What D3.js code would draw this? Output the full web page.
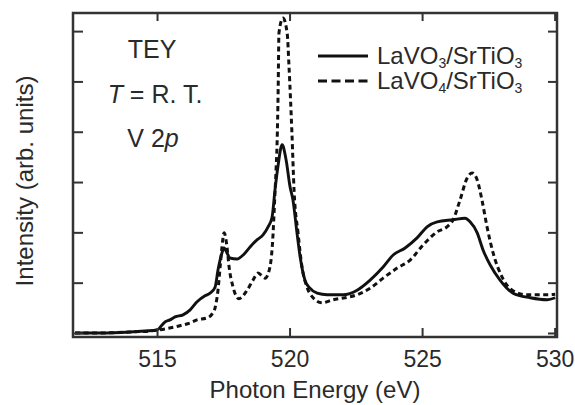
<!DOCTYPE html>
<html>
<head>
<meta charset="utf-8">
<script src="https://cdn.jsdelivr.net/npm/d3@7"></script>
<style>
  body { margin: 0; background: #fff; }
  text { font-family: "Liberation Sans", Arial, Helvetica, sans-serif; fill: #2a2a2a; }
</style>
</head>
<body>
<svg id="chart" width="575" height="405"></svg>
<script>
// LaVO3/SrTiO3 (solid)
const energyVO3 = [511.91, 512.85, 513.98, 514.55, 515.00, 515.30, 515.49, 515.68, 515.98, 516.25,
  516.51, 516.81, 517.00, 517.19, 517.30, 517.45, 517.53, 517.64, 517.75, 518.02,
  518.25, 518.51, 518.77, 519.00, 519.19, 519.34, 519.45, 519.57, 519.72, 519.87,
  520.02, 520.13, 520.28, 520.40, 520.58, 520.77, 521.04, 521.42, 522.02, 522.55,
  523.04, 523.53, 523.91, 524.36, 524.81, 525.19, 525.57, 526.17, 526.62, 526.81,
  527.08, 527.30, 527.57, 527.94, 528.43, 529.08, 529.72, 530.02];
const intensityVO3 = [0, 0, 0.02, 0.04, 0.06, 0.22, 0.26, 0.32, 0.36, 0.46,
  0.62, 0.74, 0.79, 0.91, 1.25, 1.59, 1.69, 1.59, 1.49, 1.47,
  1.55, 1.71, 1.85, 1.95, 2.11, 2.30, 2.84, 3.34, 3.74, 3.44,
  2.90, 2.64, 1.99, 1.51, 1.05, 0.89, 0.79, 0.76, 0.76, 0.85,
  1.05, 1.31, 1.55, 1.69, 1.89, 2.11, 2.21, 2.25, 2.28, 2.21,
  1.99, 1.65, 1.35, 1.05, 0.79, 0.70, 0.66, 0.70];

// LaVO4/SrTiO3 (dashed)
const energyVO4 = [511.91, 512.85, 513.98, 514.74, 515.30, 515.68, 515.98, 516.25, 516.51, 516.89,
  517.08, 517.19, 517.30, 517.38, 517.45, 517.53, 517.64, 517.72, 517.87, 518.09,
  518.40, 518.62, 518.81, 519.08, 519.26, 519.38, 519.42, 519.49, 519.53, 519.57,
  519.60, 519.75, 519.91, 519.98, 520.09, 520.17, 520.32, 520.47, 520.66, 520.89,
  521.23, 521.64, 522.09, 522.55, 523.04, 523.53, 524.06, 524.55, 525.04, 525.57,
  525.94, 526.17, 526.43, 526.70, 526.89, 527.08, 527.26, 527.45, 527.68, 528.02,
  528.40, 528.96, 529.72, 530.02];
const intensityVO4 = [0, 0, 0.02, 0.04, 0.08, 0.12, 0.16, 0.20, 0.26, 0.30,
  0.38, 0.50, 0.85, 1.31, 1.71, 1.99, 1.71, 1.31, 0.91, 0.68,
  0.85, 1.05, 1.19, 1.09, 1.31, 1.99, 2.44, 3.24, 3.78, 4.83,
  5.96, 6.26, 5.96, 5.29, 3.97, 2.84, 1.99, 1.31, 0.91, 0.70,
  0.60, 0.66, 0.70, 0.76, 0.89, 1.09, 1.29, 1.45, 1.75, 2.01,
  2.11, 2.25, 2.64, 3.08, 3.18, 3.04, 2.64, 2.11, 1.59, 1.11,
  0.85, 0.76, 0.76, 0.77];

const xTicks = [515, 520, 525, 530];
const yTicks = [0, 1, 2, 3, 4, 5, 6];

const svg = d3.select("#chart");
const margin = { left: 73, right: 557, top: 13, bottom: 337 };

const xScale = d3.scaleLinear().domain([511.83, 530.09]).range([margin.left, margin.right]);
const yScale = d3.scaleLinear().domain([-0.08, 6.36]).range([margin.bottom, margin.top]);

const frameColor = "#333";

// curves
const line = d3.line()
  .x(d => xScale(d[0]))
  .y(d => yScale(d[1]))
  .curve(d3.curveMonotoneX);

const plot = svg.append("g");
plot.append("path")
  .datum(d3.zip(energyVO4, intensityVO4))
  .attr("d", line)
  .attr("fill", "none")
  .attr("stroke", "#111")
  .attr("stroke-width", 3)
  .attr("stroke-dasharray", "5,3.5");

plot.append("path")
  .datum(d3.zip(energyVO3, intensityVO3))
  .attr("d", line)
  .attr("fill", "none")
  .attr("stroke", "#111")
  .attr("stroke-width", 2.9);

// axes (ticks inward on all sides)
svg.append("g")
  .attr("transform", "translate(0," + margin.bottom + ")")
  .call(d3.axisBottom(xScale).tickValues(xTicks).tickSize(-9).tickPadding(14).tickFormat(d3.format("d")))
  .call(g => g.select(".domain").remove())
  .call(g => g.selectAll("line").attr("stroke", frameColor).attr("stroke-width", 2))
  .call(g => g.selectAll("text").attr("font-size", 23).attr("fill", "#2a2a2a")
    .attr("font-family", "Liberation Sans, Arial, sans-serif"));

svg.append("g")
  .attr("transform", "translate(0," + margin.top + ")")
  .call(d3.axisTop(xScale).tickValues(xTicks).tickSize(-8).tickFormat(""))
  .call(g => g.select(".domain").remove())
  .call(g => g.selectAll("line").attr("stroke", frameColor).attr("stroke-width", 2));

svg.append("g")
  .attr("transform", "translate(" + margin.left + ",0)")
  .call(d3.axisLeft(yScale).tickValues(yTicks).tickSize(-10).tickFormat(""))
  .call(g => g.select(".domain").remove())
  .call(g => g.selectAll("line").attr("stroke", frameColor).attr("stroke-width", 2));

svg.append("g")
  .attr("transform", "translate(" + margin.right + ",0)")
  .call(d3.axisRight(yScale).tickValues(yTicks).tickSize(-9).tickFormat(""))
  .call(g => g.select(".domain").remove())
  .call(g => g.selectAll("line").attr("stroke", frameColor).attr("stroke-width", 2));

// frame
svg.append("rect")
  .attr("x", margin.left).attr("y", margin.top)
  .attr("width", margin.right - margin.left).attr("height", margin.bottom - margin.top)
  .attr("fill", "none")
  .attr("stroke", frameColor)
  .attr("stroke-width", 2.5);

// axis labels
svg.append("text")
  .attr("x", (margin.left + margin.right) / 2)
  .attr("y", 398)
  .attr("text-anchor", "middle")
  .attr("font-size", 24)
  .text("Photon Energy (eV)");

svg.append("text")
  .attr("transform", "translate(33,181) rotate(-90)")
  .attr("text-anchor", "middle")
  .attr("font-size", 24)
  .text("Intensity (arb. units)");

// annotations
const ann = svg.append("g").attr("font-size", 25).attr("text-anchor", "middle");
ann.append("text").attr("x", 152).attr("y", 58).text("TEY");
const t2 = ann.append("text").attr("x", 155).attr("y", 103);
t2.append("tspan").attr("font-style", "italic").text("T");
t2.append("tspan").text(" = R. T.");
const t3 = ann.append("text").attr("x", 153).attr("y", 147);
t3.append("tspan").text("V 2");
t3.append("tspan").attr("font-style", "italic").text("p");

// legend
const legend = svg.append("g");
const legendItems = [
  { y: 56, dash: null, sub1: "3" },
  { y: 81, dash: "9,4.5", sub1: "4" }
];
legendItems.forEach(item => {
  legend.append("line")
    .attr("x1", 318).attr("x2", 368)
    .attr("y1", item.y).attr("y2", item.y)
    .attr("stroke", "#111")
    .attr("stroke-width", 3)
    .attr("stroke-dasharray", item.dash);
  const t = legend.append("text")
    .attr("x", 377).attr("y", item.y + 8)
    .attr("font-size", 24);
  t.append("tspan").text("LaVO");
  t.append("tspan").attr("font-size", 14).attr("dy", 4).text(item.sub1);
  t.append("tspan").attr("dy", -4).text("/SrTiO");
  t.append("tspan").attr("font-size", 14).attr("dy", 4).text("3");
});
</script>
</body>
</html>
